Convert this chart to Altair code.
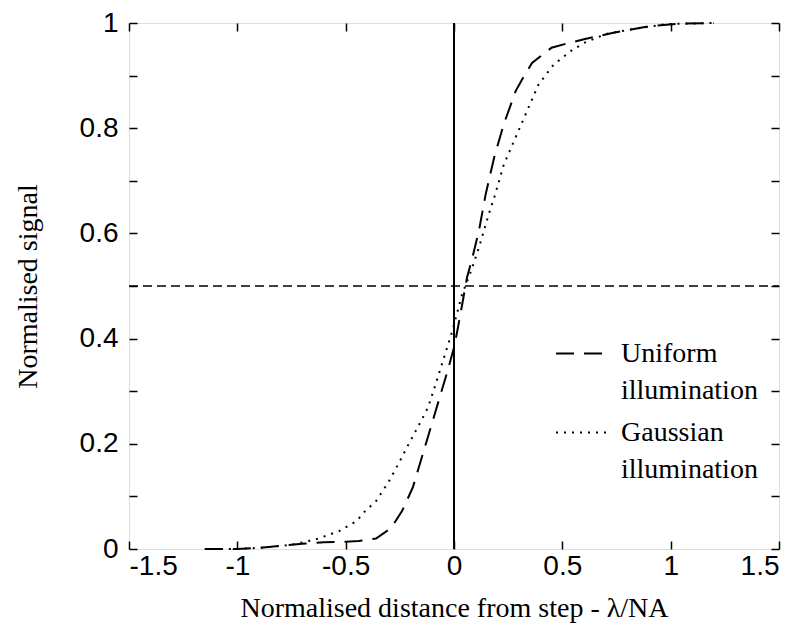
import altair as alt
import pandas as pd

# ---- data ----
uniform_x = [-1.15, -1.0, -0.9, -0.8, -0.7, -0.6, -0.5, -0.44, -0.36, -0.29, -0.24, -0.19,
             -0.14, -0.085, -0.03, 0.0, 0.015, 0.04, 0.06, 0.085, 0.115, 0.146, 0.185,
             0.23, 0.285, 0.315, 0.36, 0.45, 0.53, 0.6, 0.73, 0.9, 1.05, 1.2]
uniform_y = [0.0, 0.0, 0.002, 0.006, 0.010, 0.013, 0.014, 0.015, 0.020, 0.040, 0.072, 0.117,
             0.186, 0.262, 0.338, 0.383, 0.414, 0.47, 0.516, 0.554, 0.605, 0.674, 0.744,
             0.808, 0.871, 0.893, 0.924, 0.953, 0.962, 0.969, 0.981, 0.994, 0.999, 1.0]

gauss_x = [-1.15, -1.0, -0.87, -0.75, -0.64, -0.53, -0.45, -0.41, -0.36, -0.3, -0.25, -0.21,
           -0.16, -0.12, -0.085, -0.046, -0.008, 0.037, 0.08, 0.115, 0.16, 0.19, 0.23, 0.27,
           0.31, 0.35, 0.39, 0.46, 0.54, 0.6, 0.7, 0.82, 0.98, 1.2]
gauss_y = [0.0, 0.0, 0.003, 0.008, 0.018, 0.034, 0.053, 0.072, 0.091, 0.129, 0.167, 0.199,
           0.237, 0.269, 0.313, 0.364, 0.414, 0.484, 0.53, 0.573, 0.636, 0.674, 0.731, 0.769,
           0.807, 0.845, 0.883, 0.921, 0.947, 0.962, 0.979, 0.988, 0.998, 1.0]

series_names = ["Uniform illumination", "Gaussian illumination"]
x_ticks = [-1.5, -1, -0.5, 0, 0.5, 1, 1.5]
y_ticks = [0, 0.1, 0.2, 0.3, 0.4, 0.5, 0.6, 0.7, 0.8, 0.9, 1]
y_labels = [0, 0.2, 0.4, 0.6, 0.8, 1]
half_level = [0.5]
step_pos = [0]

df = pd.concat([
    pd.DataFrame({"x": uniform_x, "y": uniform_y, "series": series_names[0]}),
    pd.DataFrame({"x": gauss_x, "y": gauss_y, "series": series_names[1]}),
])

SANS = "Liberation Sans"
SERIF = "Liberation Serif"
TICK = 8

xscale = alt.Scale(domain=[-1.5, 1.5], nice=False, zero=False)
yscale = alt.Scale(domain=[0, 1], nice=False, zero=False)

common_axis = dict(domain=False, grid=False, tickSize=TICK, offset=-TICK, tickColor="black",
                   tickWidth=1.5, labelFont=SANS, labelFontSize=28, labelColor="black",
                   titleColor="black", titleFont=SERIF, titleFontSize=28, titleFontWeight="normal")

x_axis = alt.Axis(values=x_ticks, title="Normalised distance from step - λ/NA",
                  labelExpr="datum.value + ''", labelPadding=3, titlePadding=14, **common_axis)
y_axis = alt.Axis(values=y_ticks, title="Normalised signal",
                  labelExpr="indexof(%s, datum.value) >= 0 ? datum.value + '' : ''" % str(y_labels),
                  labelPadding=11, titlePadding=37, **common_axis)
x_top = alt.Axis(values=x_ticks, orient="top", labels=False, title=None, **common_axis)
y_right = alt.Axis(values=y_ticks, orient="right", labels=False, title=None, **common_axis)

curves = alt.Chart(df).mark_line(color="black", strokeWidth=2).encode(
    x=alt.X("x:Q", scale=xscale, axis=x_axis),
    y=alt.Y("y:Q", scale=yscale, axis=y_axis),
    strokeDash=alt.StrokeDash(
        "series:N",
        scale=alt.Scale(domain=series_names, range=[[18, 10], [2, 6]]),
        legend=alt.Legend(orient="none", legendX=426, legendY=303, title=None,
                          symbolType="stroke", symbolSize=2809, symbolStrokeWidth=2,
                          symbolStrokeColor="black", labelFont=SERIF, labelFontSize=28,
                          labelColor="black", labelOffset=11, labelLimit=300,
                          labelExpr="split(datum.label, ' ')", rowPadding=0),
    ),
    order=alt.Order("x:Q"),
)

vline_df = pd.DataFrame({"x": step_pos, "y": [0], "y2": [1]})
vline = alt.Chart(vline_df).mark_rule(color="black", strokeWidth=2).encode(
    x=alt.X("x:Q", scale=xscale, axis=None),
    y=alt.Y("y:Q", scale=yscale, axis=y_right),
    y2="y2:Q",
)

hline_df = pd.DataFrame({"y": half_level, "x": [-1.5], "x2": [1.5]})
hline = alt.Chart(hline_df).mark_rule(color="black", strokeWidth=1.5, strokeDash=[9, 5]).encode(
    y=alt.Y("y:Q", scale=yscale, axis=None),
    x=alt.X("x:Q", scale=xscale, axis=x_top),
    x2="x2:Q",
)

chart = alt.layer(curves, vline, hline).resolve_axis(
    x="independent", y="independent"
).properties(
    width=650, height=526,
    autosize=alt.AutoSizeParams(type="none"),
    padding={"left": 121, "top": 15, "right": 13, "bottom": 74},
).configure_view(stroke="black", strokeWidth=2).configure(
    background="white",
    style={"guide-label": {"lineHeight": 37}},
)

chart.save("out.html", embed_options={"renderer": "svg", "actions": False})
